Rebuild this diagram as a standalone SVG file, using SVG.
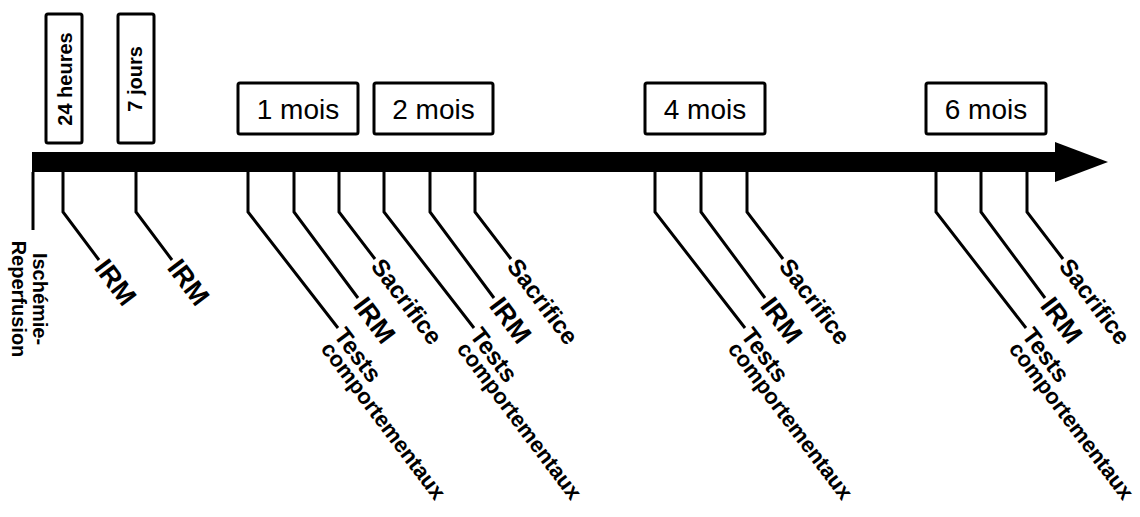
<svg xmlns="http://www.w3.org/2000/svg" width="1140" height="517" viewBox="0 0 1140 517">
<style>
.box{fill:#fff;stroke:#000;stroke-width:3}
.t{font-family:"Liberation Sans",Arial,sans-serif;fill:#000}
.vb{font-size:20px;font-weight:bold}
.mo{font-size:28px}
.ev{font-size:24px;font-weight:bold}
.cp{font-size:22px}
.irm{font-size:27px;font-weight:bold}
.tick{fill:none;stroke:#000;stroke-width:3;stroke-linejoin:miter}
</style>
<rect width="1140" height="517" fill="#fff"/>
<g id="timeline">
<rect x="32" y="152" width="1024" height="20" fill="#000"/>
<polygon points="1055,142 1108,162 1055,182" fill="#000"/>
</g>
<g id="connectors">
<path class="tick" d="M33,172 V230"/>
<path class="tick" d="M63,172 V212 L99,260"/>
<path class="tick" d="M136,172 V212 L172,260"/>
<path class="tick" d="M248,172 V212 L338,328"/>
<path class="tick" d="M294,172 V212 L358,298"/>
<path class="tick" d="M339,172 V212 L375,259"/>
<path class="tick" d="M384,172 V212 L474,328"/>
<path class="tick" d="M430,172 V212 L494,298"/>
<path class="tick" d="M475,172 V212 L511,259"/>
<path class="tick" d="M655,172 V212 L745,328"/>
<path class="tick" d="M701,172 V212 L765,298"/>
<path class="tick" d="M747,172 V212 L783,259"/>
<path class="tick" d="M936,172 V212 L1026,328"/>
<path class="tick" d="M981,172 V212 L1045,298"/>
<path class="tick" d="M1027,172 V212 L1063,259"/>
</g>
<g id="box-24h"><rect class="box" x="46" y="14" width="36" height="129" rx="2"/><text class="t vb" transform="translate(71.5,79) rotate(-90)" text-anchor="middle">24 heures</text></g>
<g id="box-7j"><rect class="box" x="118" y="14" width="36" height="129" rx="2"/><text class="t vb" transform="translate(142,79) rotate(-90)" text-anchor="middle">7 jours</text></g>
<g id="box-1m"><rect class="box" x="238" y="83" width="120" height="51" rx="2"/><text class="t mo" x="298" y="119" text-anchor="middle">1 mois</text></g>
<g id="box-2m"><rect class="box" x="374" y="83" width="119" height="51" rx="2"/><text class="t mo" x="433.5" y="119" text-anchor="middle">2 mois</text></g>
<g id="box-4m"><rect class="box" x="645" y="83" width="120" height="51" rx="2"/><text class="t mo" x="705" y="119" text-anchor="middle">4 mois</text></g>
<g id="box-6m"><rect class="box" x="926" y="83" width="120" height="51" rx="2"/><text class="t mo" x="986" y="119" text-anchor="middle">6 mois</text></g>
<g id="ev-ischemie"><text class="t vb" transform="translate(33,299) rotate(90)" text-anchor="middle"><tspan x="0" y="0">Ischémie-</tspan><tspan x="0" y="21">Reperfusion</tspan></text></g>
<g id="ev-irm-24h"><text class="t irm" transform="translate(99,260) rotate(53)" x="3" y="9.5">IRM</text></g>
<g id="ev-irm-7j"><text class="t irm" transform="translate(172,260) rotate(53)" x="3" y="9.5">IRM</text></g>
<g id="ev-tests-1m"><text class="t ev" transform="translate(338,328) rotate(53)"><tspan x="3" y="8.5">Tests</tspan><tspan class="cp" x="6" y="27">comportementaux</tspan></text></g>
<g id="ev-irm-1m"><text class="t irm" transform="translate(358,298) rotate(53)" x="3" y="9.5">IRM</text></g>
<g id="ev-sacrifice-1m"><text class="t ev" transform="translate(375,259) rotate(53)" x="3" y="8.5">Sacrifice</text></g>
<g id="ev-tests-2m"><text class="t ev" transform="translate(474,328) rotate(53)"><tspan x="3" y="8.5">Tests</tspan><tspan class="cp" x="6" y="27">comportementaux</tspan></text></g>
<g id="ev-irm-2m"><text class="t irm" transform="translate(494,298) rotate(53)" x="3" y="9.5">IRM</text></g>
<g id="ev-sacrifice-2m"><text class="t ev" transform="translate(511,259) rotate(53)" x="3" y="8.5">Sacrifice</text></g>
<g id="ev-tests-4m"><text class="t ev" transform="translate(745,328) rotate(53)"><tspan x="3" y="8.5">Tests</tspan><tspan class="cp" x="6" y="27">comportementaux</tspan></text></g>
<g id="ev-irm-4m"><text class="t irm" transform="translate(765,298) rotate(53)" x="3" y="9.5">IRM</text></g>
<g id="ev-sacrifice-4m"><text class="t ev" transform="translate(783,259) rotate(53)" x="3" y="8.5">Sacrifice</text></g>
<g id="ev-tests-6m"><text class="t ev" transform="translate(1026,328) rotate(53)"><tspan x="3" y="8.5">Tests</tspan><tspan class="cp" x="6" y="27">comportementaux</tspan></text></g>
<g id="ev-irm-6m"><text class="t irm" transform="translate(1045,298) rotate(53)" x="3" y="9.5">IRM</text></g>
<g id="ev-sacrifice-6m"><text class="t ev" transform="translate(1063,259) rotate(53)" x="3" y="8.5">Sacrifice</text></g>
</svg>
